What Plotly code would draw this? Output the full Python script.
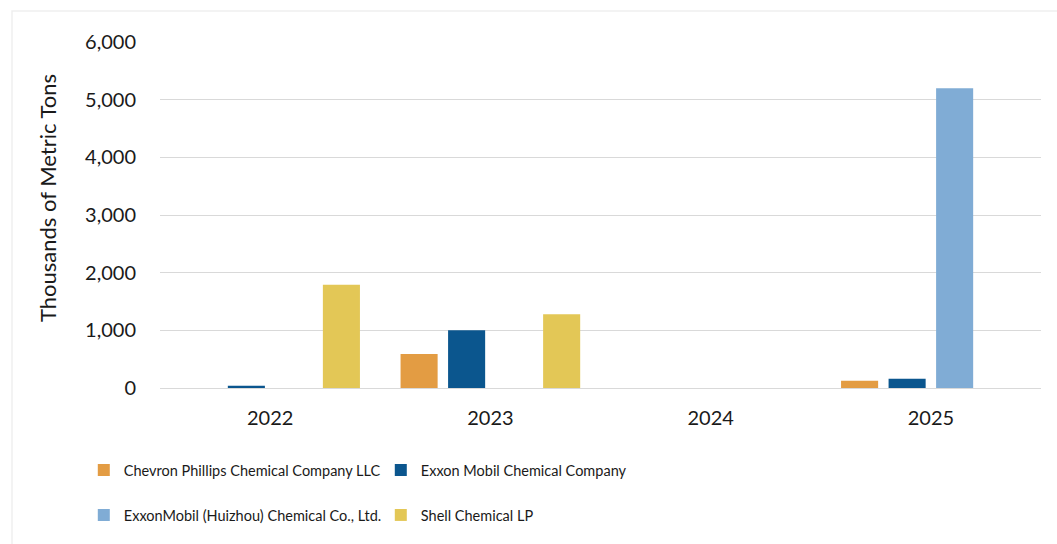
import plotly.graph_objects as go

years = ["2022", "2023", "2024", "2025"]
chevron = [0, 590, 0, 125]
exxon = [40, 1000, 0, 160]
huizhou = [0, 0, 0, 5200]
shell = [1790, 1280, 0, 0]

names = ["Chevron Phillips Chemical Company LLC", "Exxon Mobil Chemical Company",
         "ExxonMobil (Huizhou) Chemical Co., Ltd.", "Shell Chemical LP"]
colors = ["#E39C43", "#0B568E", "#80ACD5", "#E3C756"]
series = [chevron, exxon, huizhou, shell]
legends = ["legend", "legend", "legend2", "legend2"]
y_title = "Thousands of Metric Tons"

FONT = "Lato"
fig = go.Figure()
for n, c, s, lg in zip(names, colors, series, legends):
    fig.add_trace(go.Bar(x=years, y=s, name=n, marker_color=c, marker_line_width=0, legend=lg))

leg_common = dict(orientation="h", xanchor="left", yanchor="middle",
                  font=dict(family=FONT, size=14.5, color="#1a1a1a"),
                  entrywidth=252, entrywidthmode="pixels", itemwidth=30,
                  bgcolor="rgba(0,0,0,0)")

fig.update_layout(
    width=1057, height=544,
    margin=dict(l=160, r=16, t=42, b=156),
    paper_bgcolor="white", plot_bgcolor="white",
    barmode="group", bargap=0.137, bargroupgap=0.22,
    font=dict(family=FONT, size=18, color="#1a1a1a"),
    showlegend=True,
    legend=dict(x=-0.0865, y=(388 - 470) / 346, **leg_common),
    legend2=dict(x=-0.0865, y=(388 - 515) / 346, **leg_common),
    xaxis=dict(showgrid=False, showline=True, linecolor="#d9d9d9", linewidth=1,
               ticks="", ticklabelstandoff=12, tickfont=dict(size=20)),
    yaxis=dict(range=[0, 6000], dtick=1000, tickformat=",", showgrid=True,
               gridcolor="#d9d9d9", gridwidth=1, zeroline=False, ticks="",
               ticklabelstandoff=23, tickfont=dict(size=20)),
    annotations=[dict(text=y_title, textangle=-90, xref="paper", yref="paper",
                      x=(47 - 160) / 881, y=(388 - 198) / 346, xanchor="center", yanchor="middle",
                      showarrow=False, font=dict(family=FONT, size=22, color="#1a1a1a"))],
    shapes=[dict(type="rect", xref="paper", yref="paper",
                 x0=(12 - 160) / 881, x1=1.1, y0=-0.6, y1=(388 - 11) / 346,
                 line=dict(color="#efefef", width=1.5), fillcolor="rgba(0,0,0,0)", layer="below")],
)

fig.write_html("out.html", config={"displayModeBar": False},
               post_script="document.body.style.margin='0px';")
